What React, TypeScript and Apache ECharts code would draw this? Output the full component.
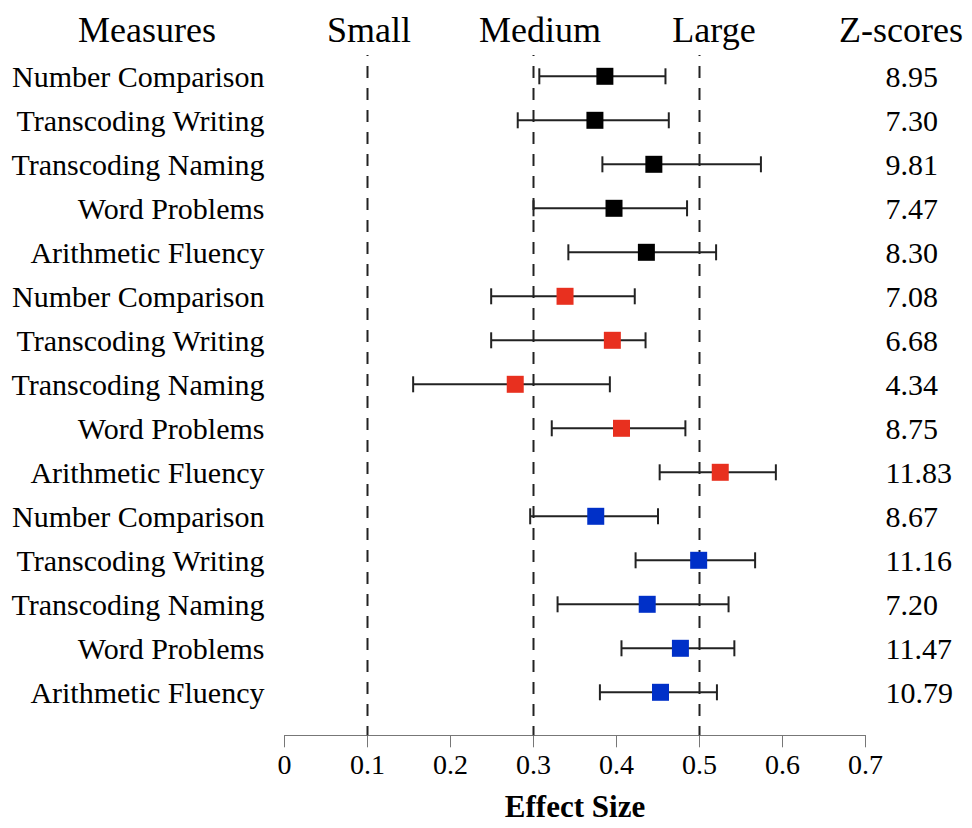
import React, { useEffect, useRef } from "react";
import * as echarts from "echarts";

const measures = [
  "Number Comparison", "Transcoding Writing", "Transcoding Naming", "Word Problems", "Arithmetic Fluency",
  "Number Comparison", "Transcoding Writing", "Transcoding Naming", "Word Problems", "Arithmetic Fluency",
  "Number Comparison", "Transcoding Writing", "Transcoding Naming", "Word Problems", "Arithmetic Fluency",
];
const effect = [0.386, 0.374, 0.445, 0.397, 0.436, 0.338, 0.395, 0.278, 0.406, 0.525, 0.375, 0.499, 0.437, 0.477, 0.453];
const lower = [0.307, 0.281, 0.383, 0.300, 0.342, 0.249, 0.249, 0.155, 0.322, 0.452, 0.296, 0.423, 0.329, 0.406, 0.380];
const upper = [0.459, 0.463, 0.574, 0.485, 0.520, 0.422, 0.435, 0.392, 0.483, 0.592, 0.450, 0.567, 0.535, 0.542, 0.521];
const zScores = ["8.95", "7.30", "9.81", "7.47", "8.30", "7.08", "6.68", "4.34", "8.75", "11.83", "8.67", "11.16", "7.20", "11.47", "10.79"];
const groupColors = ["#000000", "#e8301f", "#0030c8"];
const thresholds = [0.1, 0.3, 0.5];
const thresholdNames = ["Small", "Medium", "Large"];
const xTicks = [0, 0.1, 0.2, 0.3, 0.4, 0.5, 0.6, 0.7];

const FONT = "'Liberation Serif', 'Times New Roman', serif";

export default function App() {
  const ref = useRef<HTMLDivElement>(null);
  useEffect(() => {
    if (!ref.current) return;
    const chart = echarts.init(ref.current, null, { renderer: "svg" });
    const AXIS_OFFSET = 21;
    const headerPos = [369, 540, 714];
    const option: any = {
      animation: false,
      backgroundColor: "#ffffff",
      grid: { left: 284.5, right: 106.5, top: 54.3, bottom: 113.7 },
      xAxis: {
        type: "value",
        min: 0,
        max: 0.7,
        interval: 0.1,
        offset: AXIS_OFFSET,
        axisLine: { show: true, lineStyle: { color: "#777777", width: 1 } },
        axisTick: { show: true, length: 12, lineStyle: { color: "#777777", width: 1 } },
        splitLine: { show: false },
        axisLabel: {
          fontFamily: FONT,
          fontSize: 28,
          color: "#000",
          margin: 15,
          formatter: (v: number) => {
            const t = xTicks.find((k) => Math.abs(k - v) < 1e-6);
            return t === 0 ? "0" : (t !== undefined ? t.toFixed(1) : "");
          },
        },
      },
      yAxis: [
        {
          type: "category",
          inverse: true,
          data: measures,
          axisLine: { show: false },
          axisTick: { show: false },
          splitLine: { show: false },
          axisLabel: { fontFamily: FONT, fontSize: 30, color: "#000", margin: 20, align: "right" },
        },
        {
          type: "category",
          inverse: true,
          position: "right",
          data: zScores,
          axisLine: { show: false },
          axisTick: { show: false },
          splitLine: { show: false },
          axisLabel: { fontFamily: FONT, fontSize: 30, color: "#000", margin: 20, align: "left" },
        },
      ],
      series: [
        {
          type: "custom",
          clip: false,
          silent: true,
          encode: { x: 0, y: 1 },
          data: thresholds.map((t) => [t, 0]),
          renderItem: (params: any, api: any) => {
            const x = api.coord([api.value(0), 0])[0];
            const cs = params.coordSys;
            return {
              type: "line",
              shape: { x1: x, y1: cs.y + 0.7, x2: x, y2: cs.y + cs.height + AXIS_OFFSET },
              style: { stroke: "#222222", lineWidth: 2, lineDash: [12, 10], lineDashOffset: 11 },
            };
          },
          z: 1,
        },
        {
          type: "custom",
          clip: false,
          silent: true,
          encode: { x: [0, 1], y: 2 },
          data: lower.map((l, i) => [l, upper[i], i]),
          renderItem: (params: any, api: any) => {
            const p1 = api.coord([api.value(0), api.value(2)]);
            const p2 = api.coord([api.value(1), api.value(2)]);
            const h = 8;
            const st = { stroke: "#222222", lineWidth: 2 };
            return {
              type: "group",
              children: [
                { type: "line", shape: { x1: p1[0], y1: p1[1], x2: p2[0], y2: p2[1] }, style: st },
                { type: "line", shape: { x1: p1[0], y1: p1[1] - h, x2: p1[0], y2: p1[1] + h }, style: st },
                { type: "line", shape: { x1: p2[0], y1: p2[1] - h, x2: p2[0], y2: p2[1] + h }, style: st },
              ],
            };
          },
          z: 2,
        },
        {
          type: "scatter",
          symbol: "rect",
          symbolSize: 17,
          data: effect.map((e, i) => ({
            value: [e, i],
            itemStyle: { color: groupColors[Math.floor(i / 5)], opacity: 1 },
          })),
          z: 3,
        },
      ],
      graphic: [
        {
          type: "text",
          x: 147,
          y: 30,
          style: { text: "Measures", font: `36px ${FONT}`, fill: "#000", textAlign: "center", textVerticalAlign: "middle" },
        },
        ...thresholdNames.map((n, i) => ({
          type: "text",
          x: headerPos[i],
          y: 30,
          style: { text: n, font: `36px ${FONT}`, fill: "#000", textAlign: "center", textVerticalAlign: "middle" },
        })),
        {
          type: "text",
          x: 901,
          y: 30,
          style: { text: "Z-scores", font: `36px ${FONT}`, fill: "#000", textAlign: "center", textVerticalAlign: "middle" },
        },
        {
          type: "text",
          x: 575,
          y: 806,
          style: { text: "Effect Size", font: `bold 31px ${FONT}`, fill: "#000", textAlign: "center", textVerticalAlign: "middle" },
        },
      ],
    };
    chart.setOption(option);
    return () => chart.dispose();
  }, []);
  return (
    <div
      ref={ref}
      style={{ position: "fixed", left: 0, top: 0, width: 972, height: 828, background: "#fff" }}
    />
  );
}
